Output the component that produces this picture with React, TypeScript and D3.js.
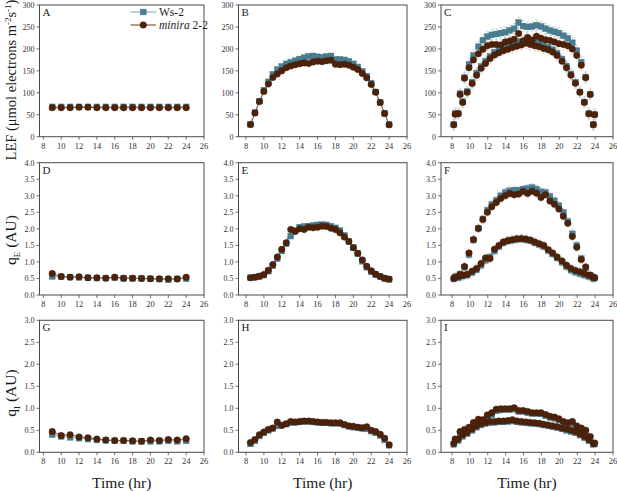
import React from "react";
import * as d3 from "d3";

// ---------- data ----------
const hourly = [9, 10, 11, 12, 13, 14, 15, 16, 17, 18, 19, 20, 21, 22, 23, 24];
const halfHourly = [8.5, 9, 9.5, 10, 10.5, 11, 11.5, 12, 12.5, 13, 13.5, 14, 14.5, 15, 15.5, 16, 16.5, 17, 17.5, 18, 18.5, 19, 19.5, 20, 20.5, 21, 21.5, 22, 22.5, 23, 23.5, 24];
const fluctLowX = [8.2, 8.7, 9.2, 9.7, 10.25, 10.75, 11.25, 11.75, 12.25, 12.75, 13.25, 13.75, 14.25, 14.75, 15.25, 15.75, 16.25, 16.75, 17.25, 17.75, 18.25, 18.75, 19.25, 19.75, 20.3, 20.8, 21.3, 21.8, 22.3, 22.8, 23.3, 23.8];
const fluctHighX = [8.35, 8.9, 9.4, 9.9, 10.4, 10.95, 11.45, 11.95, 12.45, 12.95, 13.45, 13.95, 14.45, 14.95, 15.45, 15.95, 16.45, 16.95, 17.45, 17.95, 18.45, 18.95, 19.45, 19.95, 20.45, 20.95, 21.45, 21.95, 22.45, 22.95, 23.45, 23.95];

// A: LEF constant light
const lefConstWs = [68, 68, 68, 68, 68, 68, 68, 68, 68, 68, 68, 68, 68, 68, 68, 68];
const lefConstMin = [66, 66, 66, 67, 67, 66, 66, 66, 66, 66, 66, 66, 66, 66, 66, 66];
// B: LEF sinusoidal
const lefSinWs = [28, 55, 81, 106, 125, 142, 153, 160, 166, 170, 173, 177, 180, 183, 184, 182, 181, 183, 184, 176, 176, 175, 172, 166, 159, 149, 138, 122, 102, 78, 53, 28];
const lefSinMin = [28, 54, 80, 103, 120, 135, 143, 150, 157, 161, 164, 166, 168, 167, 170, 172, 171, 173, 174, 165, 164, 165, 163, 158, 153, 144, 134, 119, 101, 78, 53, 27];
// C: LEF fluctuating
const lefFlLowWs = [28, 53, 80, 103, 124, 145, 160, 172, 183, 192, 198, 203, 207, 212, 215, 217, 220, 218, 215, 212, 208, 204, 198, 190, 177, 161, 143, 124, 102, 79, 53, 28];
const lefFlHighWs = [53, 98, 135, 165, 185, 205, 220, 228, 232, 234, 236, 238, 242, 246, 260, 252, 250, 251, 254, 251, 246, 242, 239, 236, 230, 224, 214, 196, 170, 136, 97, 51];
const lefFlLowMin = [27, 52, 78, 101, 121, 140, 156, 167, 178, 186, 191, 196, 199, 203, 206, 209, 213, 210, 207, 205, 201, 198, 193, 185, 172, 157, 140, 122, 101, 78, 52, 27];
const lefFlHighMin = [51, 96, 133, 157, 175, 189, 199, 207, 210, 210, 209, 216, 218, 222, 235, 218, 226, 220, 229, 224, 221, 219, 216, 212, 210, 207, 200, 185, 163, 134, 96, 50];
// D: qE constant
const qeConstWs = [0.56, 0.55, 0.54, 0.53, 0.52, 0.51, 0.51, 0.52, 0.5, 0.5, 0.5, 0.49, 0.48, 0.46, 0.49, 0.49];
const qeConstMin = [0.65, 0.56, 0.54, 0.55, 0.52, 0.52, 0.51, 0.54, 0.51, 0.51, 0.5, 0.49, 0.49, 0.49, 0.48, 0.54];
// E: qE sinusoidal
const qeSinWs = [0.52, 0.54, 0.56, 0.6, 0.72, 0.88, 1.1, 1.33, 1.55, 1.78, 1.95, 2.05, 2.07, 2.08, 2.1, 2.12, 2.13, 2.12, 2.08, 2.03, 1.95, 1.8, 1.62, 1.44, 1.25, 1.02, 0.84, 0.7, 0.62, 0.56, 0.5, 0.47];
const qeSinMin = [0.52, 0.54, 0.57, 0.62, 0.75, 0.92, 1.15, 1.38, 1.58, 1.98, 1.92, 2.0, 1.98, 2.05, 2.03, 2.05, 2.08, 2.07, 2.02, 1.98, 1.88, 1.75, 1.62, 1.43, 1.26, 1.06, 0.87, 0.73, 0.63, 0.56, 0.51, 0.48];
// F: qE fluctuating
const qeFlLowWs = [0.49, 0.52, 0.57, 0.6, 0.68, 0.76, 0.9, 1.05, 1.15, 1.33, 1.47, 1.58, 1.63, 1.66, 1.68, 1.69, 1.67, 1.64, 1.58, 1.53, 1.47, 1.35, 1.24, 1.12, 0.99, 0.86, 0.75, 0.69, 0.64, 0.6, 0.56, 0.5];
const qeFlHighWs = [0.55, 0.63, 0.84, 1.22, 1.66, 2.02, 2.3, 2.56, 2.74, 2.86, 3.0, 3.1, 3.15, 3.17, 3.17, 3.2, 3.22, 3.25, 3.2, 3.12, 3.1, 2.98, 2.85, 2.7, 2.5, 2.22, 1.85, 1.5, 1.1, 0.82, 0.6, 0.52];
const qeFlLowMin = [0.5, 0.56, 0.6, 0.63, 0.72, 0.8, 0.95, 1.12, 1.1, 1.38, 1.5, 1.6, 1.65, 1.67, 1.7, 1.71, 1.69, 1.66, 1.6, 1.55, 1.5, 1.37, 1.27, 1.15, 1.03, 0.9, 0.8, 0.74, 0.7, 0.65, 0.6, 0.53];
const qeFlHighMin = [0.54, 0.62, 0.86, 1.27, 1.68, 2.01, 2.28, 2.5, 2.67, 2.8, 2.92, 3.0, 3.07, 3.03, 3.05, 3.13, 3.07, 3.14, 3.08, 2.95, 3.03, 2.84, 2.74, 2.6, 2.38, 2.17, 1.77, 1.44, 1.07, 0.85, 0.6, 0.52];
// G: qI constant
const qiConstWs = [0.4, 0.36, 0.34, 0.32, 0.3, 0.28, 0.27, 0.26, 0.26, 0.25, 0.25, 0.25, 0.25, 0.26, 0.25, 0.26];
const qiConstMin = [0.47, 0.38, 0.4, 0.35, 0.33, 0.3, 0.28, 0.27, 0.27, 0.26, 0.25, 0.28, 0.27, 0.29, 0.28, 0.31];
// H: qI sinusoidal
const qiSinWs = [0.19, 0.26, 0.37, 0.44, 0.5, 0.54, 0.6, 0.62, 0.64, 0.67, 0.68, 0.69, 0.7, 0.7, 0.69, 0.68, 0.67, 0.67, 0.66, 0.66, 0.65, 0.62, 0.59, 0.57, 0.56, 0.54, 0.53, 0.48, 0.44, 0.38, 0.28, 0.16];
const qiSinMin = [0.22, 0.29, 0.4, 0.46, 0.52, 0.55, 0.69, 0.61, 0.65, 0.7, 0.69, 0.7, 0.71, 0.71, 0.7, 0.69, 0.68, 0.68, 0.67, 0.67, 0.67, 0.63, 0.6, 0.59, 0.57, 0.56, 0.58, 0.5, 0.47, 0.41, 0.32, 0.17];
// I: qI fluctuating
const qiFlLowWs = [0.18, 0.27, 0.36, 0.42, 0.5, 0.57, 0.62, 0.65, 0.67, 0.68, 0.69, 0.69, 0.7, 0.71, 0.69, 0.68, 0.67, 0.66, 0.65, 0.64, 0.62, 0.6, 0.58, 0.56, 0.53, 0.5, 0.47, 0.44, 0.39, 0.33, 0.26, 0.18];
const qiFlHighWs = [0.27, 0.4, 0.47, 0.53, 0.62, 0.68, 0.7, 0.78, 0.85, 0.94, 0.96, 0.97, 0.97, 0.98, 0.93, 0.93, 0.9, 0.88, 0.88, 0.87, 0.83, 0.79, 0.77, 0.73, 0.67, 0.64, 0.65, 0.57, 0.52, 0.46, 0.33, 0.19];
const qiFlLowMin = [0.2, 0.3, 0.4, 0.45, 0.53, 0.6, 0.65, 0.68, 0.7, 0.7, 0.71, 0.71, 0.72, 0.74, 0.71, 0.7, 0.69, 0.68, 0.67, 0.66, 0.64, 0.62, 0.6, 0.58, 0.55, 0.53, 0.5, 0.47, 0.42, 0.36, 0.29, 0.2];
const qiFlHighMin = [0.3, 0.47, 0.52, 0.57, 0.68, 0.75, 0.74, 0.85, 0.9, 0.98, 0.99, 0.99, 0.99, 1.01, 0.95, 0.95, 0.93, 0.9, 0.9, 0.9, 0.86, 0.82, 0.8, 0.76, 0.7, 0.67, 0.7, 0.6, 0.55, 0.5, 0.36, 0.21];

const panelLetters = ["A", "B", "C", "D", "E", "F", "G", "H", "I"];
const errorSizes = [2, 5, 12, 0.04, 0.08, 0.12, 0.02, 0.02, 0.03];
const xTicks = [8, 10, 12, 14, 16, 18, 20, 22, 24, 26];
const lefTicks = [0, 50, 100, 150, 200, 250, 300];
const qeTicks = [0, 0.5, 1, 1.5, 2, 2.5, 3, 3.5, 4];
const qiTicks = [0, 0.5, 1, 1.5, 2, 2.5, 3];
const legendLabels = ["Ws-2", "minira 2-2"];

// ---------- layout ----------
const cols = [
  { x0: 39.5, x1: 204, dMin: 7.57 },
  { x0: 238.5, x1: 407, dMin: 7.16 },
  { x0: 441, x1: 613, dMin: 6.77 },
];
const rows = [
  { y0: 5, y1: 136.7, max: 300, ticks: lefTicks, fmt: d3.format("d") },
  { y0: 162.7, y1: 295, max: 4, ticks: qeTicks, fmt: d3.format(".1f") },
  { y0: 320.3, y1: 452.3, max: 3, ticks: qiTicks, fmt: d3.format(".1f") },
];

const WS = "#4b7d91";
const WS_LINE = "#7f9fad";
const MIN = "#4f220a";
const MIN_LINE = "#6b3a1c";
const WS_ERR = "#b5cad6";
const MIN_ERR = "#e3c7b3";
const FONT = "Liberation Serif";

type Series = { x: number[]; y: number[]; kind: "ws" | "min"; line: boolean };

function panelSeries(i: number): Series[] {
  const mk = (x: number[], y: number[], kind: "ws" | "min", line: boolean): Series => ({ x, y, kind, line });
  switch (i) {
    case 0: return [mk(hourly, lefConstWs, "ws", true), mk(hourly, lefConstMin, "min", true)];
    case 1: return [mk(halfHourly, lefSinWs, "ws", true), mk(halfHourly, lefSinMin, "min", true)];
    case 2: return [mk(fluctLowX, lefFlLowWs, "ws", false), mk(fluctHighX, lefFlHighWs, "ws", false), mk(fluctLowX, lefFlLowMin, "min", false), mk(fluctHighX, lefFlHighMin, "min", false)];
    case 3: return [mk(hourly, qeConstWs, "ws", true), mk(hourly, qeConstMin, "min", true)];
    case 4: return [mk(halfHourly, qeSinWs, "ws", true), mk(halfHourly, qeSinMin, "min", true)];
    case 5: return [mk(fluctLowX, qeFlLowWs, "ws", false), mk(fluctHighX, qeFlHighWs, "ws", false), mk(fluctLowX, qeFlLowMin, "min", false), mk(fluctHighX, qeFlHighMin, "min", false)];
    case 6: return [mk(hourly, qiConstWs, "ws", true), mk(hourly, qiConstMin, "min", true)];
    case 7: return [mk(halfHourly, qiSinWs, "ws", true), mk(halfHourly, qiSinMin, "min", true)];
    default: return [mk(fluctLowX, qiFlLowWs, "ws", false), mk(fluctHighX, qiFlHighWs, "ws", false), mk(fluctLowX, qiFlLowMin, "min", false), mk(fluctHighX, qiFlHighMin, "min", false)];
  }
}

function Square({ cx, cy, s }: { cx: number; cy: number; s: number }) {
  return <rect x={cx - s / 2} y={cy - s / 2} width={s} height={s} fill={WS} stroke="#3f6f82" strokeWidth={0.4} />;
}
function Dot({ cx, cy, r }: { cx: number; cy: number; r: number }) {
  return <circle cx={cx} cy={cy} r={r} fill={MIN} stroke="#3a1805" strokeWidth={0.4} />;
}

function Panel({ idx }: { idx: number }) {
  const c = cols[idx % 3];
  const r = rows[Math.floor(idx / 3)];
  const x = d3.scaleLinear().domain([c.dMin, 26]).range([c.x0, c.x1]);
  const y = d3.scaleLinear().domain([0, r.max]).range([r.y1, r.y0]);
  const series = panelSeries(idx);
  const err = errorSizes[idx];
  const line = d3.line<[number, number]>().x((d) => x(d[0])).y((d) => y(d[1]));
  const ordered = [...series.filter((s) => s.kind === "ws"), ...series.filter((s) => s.kind === "min")];
  return (
    <g>
      {ordered.map((s, si) =>
        s.x.map((xv, j) => {
          const px = x(xv);
          const top = y(s.y[j] + err);
          const bot = y(s.y[j] - err);
          const col = s.kind === "ws" ? WS_ERR : MIN_ERR;
          return (
            <g key={`e${si}-${j}`} stroke={col} strokeWidth={0.6}>
              <line x1={px} x2={px} y1={top} y2={bot} />
              <line x1={px - 1.5} x2={px + 1.5} y1={top} y2={top} />
              <line x1={px - 1.5} x2={px + 1.5} y1={bot} y2={bot} />
            </g>
          );
        })
      )}
      {ordered.map((s, si) =>
        s.line ? (
          <path key={`l${si}`} d={line(s.x.map((xv, j) => [xv, s.y[j]] as [number, number])) || ""} fill="none" stroke={s.kind === "ws" ? WS_LINE : MIN_LINE} strokeWidth={0.8} />
        ) : null
      )}
      {ordered.map((s, si) =>
        s.x.map((xv, j) =>
          s.kind === "ws" ? (
            <Square key={`m${si}-${j}`} cx={x(xv)} cy={y(s.y[j])} s={5.8} />
          ) : (
            <Dot key={`m${si}-${j}`} cx={x(xv)} cy={y(s.y[j])} r={3.25} />
          )
        )
      )}
      <rect x={c.x0} y={r.y0} width={c.x1 - c.x0} height={r.y1 - r.y0} fill="none" stroke="#4a4a4a" strokeWidth={1} />
      {xTicks.map((t) => (
        <g key={`xt${t}`}>
          <line x1={x(t)} x2={x(t)} y1={r.y1} y2={r.y1 + 3} stroke="#4a4a4a" strokeWidth={0.8} />
          <text x={x(t)} y={r.y1 + 12} textAnchor="middle" fontSize={8.5} style={{ fontFamily: FONT }} fill="#333">{t}</text>
        </g>
      ))}
      {r.ticks.map((t) => (
        <g key={`yt${t}`}>
          <line x1={c.x0 - 3} x2={c.x0} y1={y(t)} y2={y(t)} stroke="#4a4a4a" strokeWidth={0.8} />
          <text x={c.x0 - 5} y={y(t) + 3} textAnchor="end" fontSize={8} style={{ fontFamily: FONT }} fill="#333">{r.fmt(t)}</text>
        </g>
      ))}
      <text x={c.x0 + 3} y={r.y0 + 11} fontSize={11} style={{ fontFamily: FONT }} fill="#222">{panelLetters[idx]}</text>
    </g>
  );
}

export default function App() {
  const legendX = d3.scaleLinear().domain([0, 1]).range([130.5, 156]);
  return (
    <svg width={617} height={491} style={{ display: "block", position: "absolute", left: 0, top: 0, background: "#fff", fontFamily: FONT }}>
      <rect width={617} height={491} fill="#fff" />
      {[0, 1, 2, 3, 4, 5, 6, 7, 8].map((i) => (
        <Panel key={i} idx={i} />
      ))}
      <g>
        <line x1={legendX(0)} x2={legendX(1)} y1={12} y2={12} stroke={WS_LINE} strokeWidth={1} />
        <Square cx={legendX(0.5)} cy={12} s={5.8} />
        <text x={159} y={16} fontSize={11.5} fill="#222">{legendLabels[0]}</text>
        <line x1={legendX(0)} x2={legendX(1)} y1={25} y2={25} stroke={MIN_LINE} strokeWidth={1} />
        <Dot cx={legendX(0.5)} cy={25} r={3.3} />
        <text x={159} y={29} fontSize={11.5} fill="#222">
          <tspan fontStyle="italic">minira</tspan> 2-2
        </text>
      </g>
      <text transform="translate(16,80) rotate(-90)" textAnchor="middle" fontSize={14.5} fill="#1a1a1a">
        LEF (μmol electrons m<tspan dy={-5} fontSize={9}>-2</tspan><tspan dy={5}>s</tspan><tspan dy={-5} fontSize={9}>-1</tspan><tspan dy={5}>)</tspan>
      </text>
      <text transform="translate(16,240) rotate(-90)" textAnchor="middle" fontSize={15.5} fill="#1a1a1a">
        q<tspan dy={4} fontSize={9}>E</tspan><tspan dy={-4}> (AU)</tspan>
      </text>
      <text transform="translate(16,393) rotate(-90)" textAnchor="middle" fontSize={15.5} fill="#1a1a1a">
        q<tspan dy={4} fontSize={9}>I</tspan><tspan dy={-4}> (AU)</tspan>
      </text>
      {cols.map((c, i) => (
        <text key={`xl${i}`} x={(c.x0 + c.x1) / 2} y={488} textAnchor="middle" fontSize={15.5} fill="#1a1a1a">Time (hr)</text>
      ))}
    </svg>
  );
}
